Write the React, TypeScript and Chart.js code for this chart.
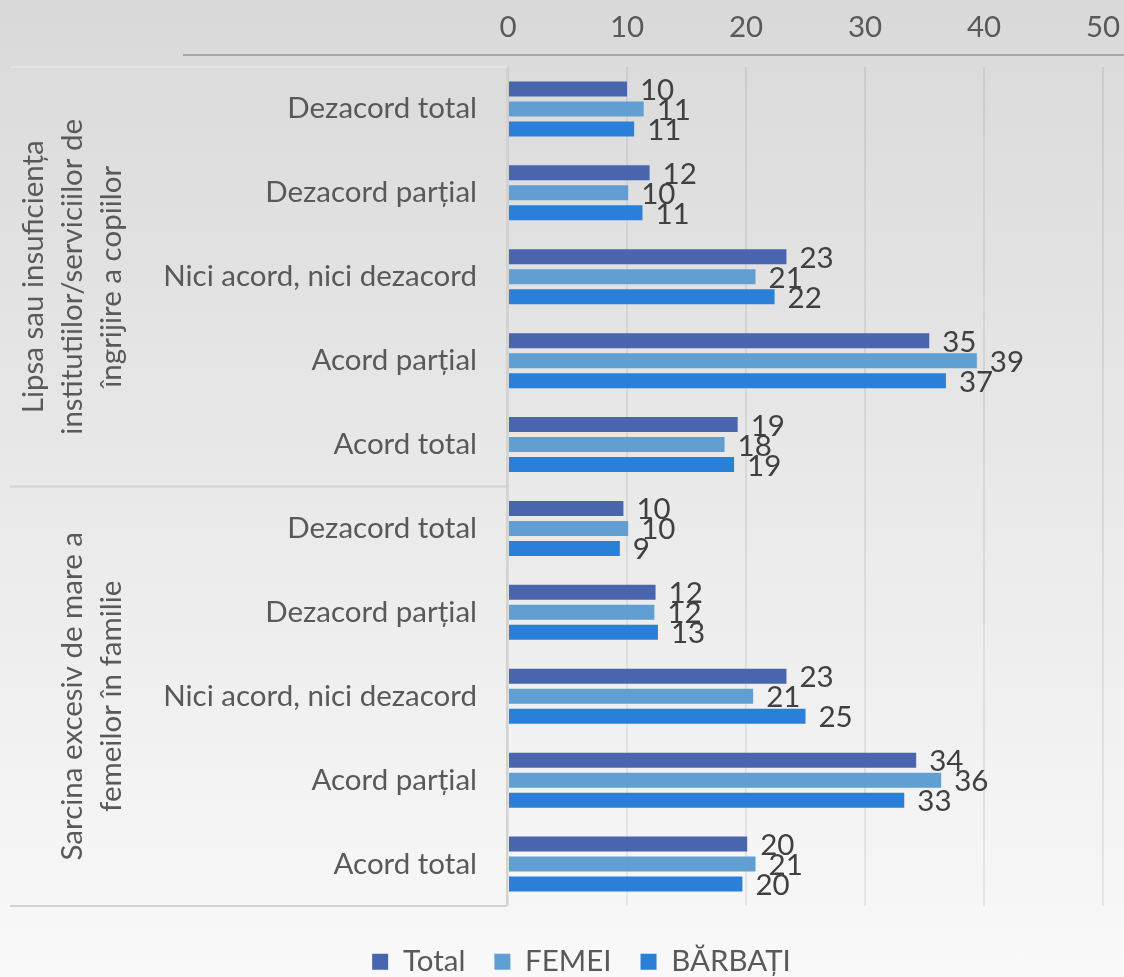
import React, { useEffect, useRef } from "react";
import { Chart, registerables } from "chart.js";

Chart.register(...registerables);

const categories = [
  "Dezacord total",
  "Dezacord parțial",
  "Nici acord, nici dezacord",
  "Acord parțial",
  "Acord total",
  "Dezacord total",
  "Dezacord parțial",
  "Nici acord, nici dezacord",
  "Acord parțial",
  "Acord total",
];

const groupTitles: string[][] = [
  ["Lipsa sau insuficiența", "institutiilor/serviciilor de", "îngrijire a copiilor"],
  ["Sarcina excesiv de mare a", "femeilor în familie"],
];
const groupSizes = [5, 5];

const totalValues = [10.0, 11.9, 23.4, 35.4, 19.3, 9.7, 12.4, 23.4, 34.3, 20.1];
const femeiValues = [11.4, 10.1, 20.8, 39.4, 18.2, 10.1, 12.3, 20.6, 36.4, 20.8];
const barbatiValues = [10.6, 11.3, 22.4, 36.8, 19.0, 9.4, 12.6, 25.0, 33.3, 19.7];

const seriesNames = ["Total", "FEMEI", "BĂRBAȚI"];
const seriesColors = ["#4865ae", "#619fd3", "#2a7fd8"];

const xTicks = [0, 10, 20, 30, 40, 50];

const FONT = "Lato, 'Open Sans', sans-serif";
const FS = 29.5;

export default function App() {
  const ref = useRef<HTMLCanvasElement>(null);

  useEffect(() => {
    const canvas = ref.current!;

    const decorPlugin = {
      id: "decor",
      beforeDatasetsDraw(chart: any) {
        const { ctx, chartArea } = chart;
        const yScale = chart.scales.y;
        ctx.save();
        ctx.strokeStyle = "#d2d2d2";
        ctx.lineWidth = 2;
        let start = 0;
        const boundaries: number[] = [];
        groupSizes.forEach((n) => {
          start += n;
          boundaries.push(start);
        });
        boundaries.forEach((b) => {
          const y =
            b >= categories.length
              ? chartArea.bottom
              : (yScale.getPixelForValue(b - 1) + yScale.getPixelForValue(b)) / 2;
          ctx.beginPath();
          ctx.moveTo(10, y);
          ctx.lineTo(chartArea.left - 1, y);
          ctx.stroke();
        });
        ctx.beginPath();
        ctx.moveTo(chartArea.left - 1, chartArea.top);
        ctx.lineTo(chartArea.left - 1, chartArea.bottom);
        ctx.stroke();
        ctx.strokeStyle = "#e4e4e4";
        ctx.beginPath();
        ctx.moveTo(10, chartArea.top);
        ctx.lineTo(chartArea.left - 1, chartArea.top);
        ctx.stroke();
        ctx.restore();
      },
      afterDatasetsDraw(chart: any) {
        const { ctx } = chart;
        ctx.save();
        ctx.font = `${FS}px ${FONT}`;
        ctx.fillStyle = "#404040";
        ctx.textAlign = "left";
        ctx.textBaseline = "middle";
        chart.data.datasets.forEach((ds: any, di: number) => {
          const meta = chart.getDatasetMeta(di);
          meta.data.forEach((bar: any, i: number) => {
            const v = ds.data[i];
            ctx.fillText(String(Math.round(v)), bar.x + 13, bar.y + 1.5);
          });
        });
        ctx.restore();
      },
      afterDraw(chart: any) {
        const { ctx, chartArea, width } = chart;
        const yScale = chart.scales.y;
        ctx.save();
        ctx.strokeStyle = "#a6a6a6";
        ctx.lineWidth = 2;
        ctx.beginPath();
        ctx.moveTo(183, chartArea.top - 12);
        ctx.lineTo(width, chartArea.top - 12);
        ctx.stroke();
        ctx.font = `${FS}px ${FONT}`;
        ctx.fillStyle = "#595959";
        ctx.textAlign = "center";
        ctx.textBaseline = "middle";
        let idx = 0;
        groupTitles.forEach((lines, g) => {
          const first = idx;
          const last = idx + groupSizes[g] - 1;
          idx += groupSizes[g];
          const yc = (yScale.getPixelForValue(first) + yScale.getPixelForValue(last)) / 2;
          const n = lines.length;
          lines.forEach((line, li) => {
            const xc = 111 - (n - 1 - li) * 38.7;
            ctx.save();
            ctx.translate(xc, yc);
            ctx.rotate(-Math.PI / 2);
            ctx.fillText(line, 0, 0);
            ctx.restore();
          });
        });
        ctx.restore();
      },
    };

    const chart = new Chart(canvas, {
      type: "bar",
      data: {
        labels: categories,
        datasets: [totalValues, femeiValues, barbatiValues].map((d, i) => ({
          label: seriesNames[i],
          data: d,
          backgroundColor: seriesColors[i],
          borderWidth: 0,
          categoryPercentage: 0.715,
          barPercentage: 0.75,
        })),
      },
      options: {
        indexAxis: "y",
        animation: false,
        responsive: false,
        devicePixelRatio: 1,
        layout: { padding: { left: 60, right: 21, top: 0, bottom: 0 } },
        scales: {
          x: {
            position: "top",
            min: 0,
            max: 50,
            afterBuildTicks: (s: any) => {
              s.ticks = xTicks.map((v) => ({ value: v }));
            },
            afterFit: (s: any) => {
              s.height = 67;
            },
            ticks: {
              font: { family: FONT, size: FS },
              color: "#595959",
              padding: 0,
              maxRotation: 0,
            },
            grid: {
              color: "rgba(0,0,0,0.07)",
              lineWidth: 2,
              drawTicks: true,
              tickLength: 22,
              tickColor: "rgba(0,0,0,0)",
            },
            border: { display: false },
          },
          y: {
            afterFit: (s: any) => {
              s.width = 508 - 60;
            },
            ticks: {
              font: { family: FONT, size: FS },
              color: "#595959",
              padding: 31,
              autoSkip: false,
            },
            grid: { display: false, drawTicks: false },
            border: { display: false },
          },
        },
        plugins: {
          legend: {
            position: "bottom",
            maxHeight: 71,
            title: { display: true, text: "", font: { size: 10 }, padding: 0 },
            labels: {
              boxWidth: 16,
              boxHeight: 16,
              padding: 29,
              font: { family: FONT, size: FS },
              color: "#595959",
            },
          },
          tooltip: { enabled: false },
        },
      } as any,
      plugins: [decorPlugin],
    });

    return () => chart.destroy();
  }, []);

  return (
    <div
      style={{
        position: "absolute",
        left: 0,
        top: 0,
        width: 1124,
        height: 977,
        background: "linear-gradient(to bottom, #d9d9d9 0%, #f9f9f9 100%)",
      }}
    >
      <canvas ref={ref} width={1124} height={977} style={{ display: "block", width: 1124, height: 977 }} />
    </div>
  );
}
